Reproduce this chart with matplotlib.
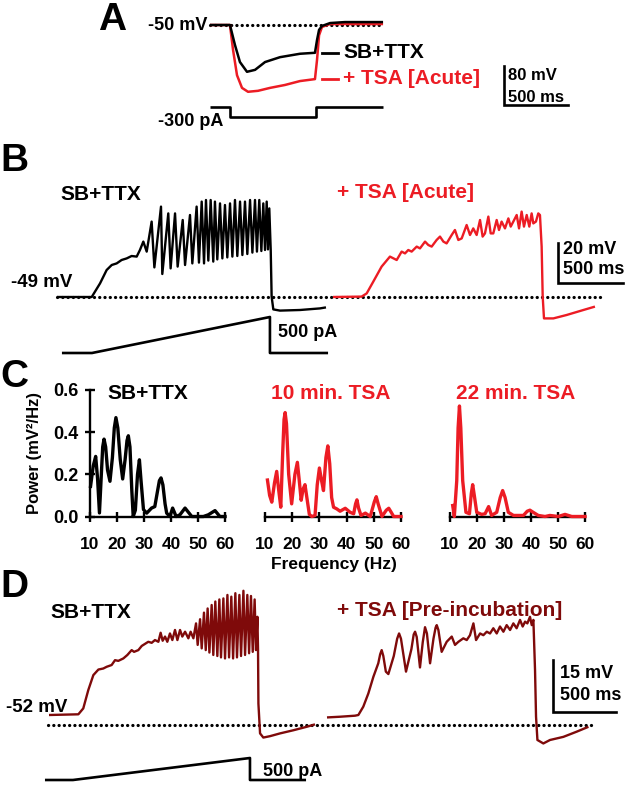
import numpy as np
import matplotlib
matplotlib.use('Agg')
import matplotlib.pyplot as plt
from matplotlib.lines import Line2D

plt.rcParams['font.family'] = ['Liberation Sans', 'DejaVu Sans']
plt.rcParams['font.weight'] = 'bold'

W, H = 625, 792
RED = '#EC1C24'
DRED = '#7F0A0A'

# ------------------------------------------------------------------ data
# Panel A: hyperpolarising step (time ms, membrane potential mV, current pA)
A_sb_t = [0, 156, 195, 234, 289, 352, 430, 547, 703, 820, 836, 852, 875, 938, 1055, 1352]
A_sb_v = [-50, -50, -91, -126, -146, -142, -126, -116, -109, -107, -81, -60, -52, -46, -44, -44]
A_tsa_t = [0, 156, 180, 211, 250, 297, 375, 469, 586, 703, 820, 836, 852, 875, 938, 1352]
A_tsa_v = [-50, -50, -101, -153, -179, -187, -185, -179, -173, -165, -161, -122, -71, -54, -48, -48]
A_step_t = [0, 156, 156, 828, 828, 1352]
A_step_i = [0, 0, -300, -300, 0, 0]

# Panel B: ramp responses (ms, mV)
B_sb_t = [0, 267, 331, 382, 421, 459, 497, 536, 574, 613,
          638, 664, 690, 728, 749, 800, 810, 856, 874, 908,
          928, 967, 985, 1023, 1041, 1074, 1092, 1113, 1131, 1146,
          1164, 1182, 1202, 1215, 1233, 1254, 1272, 1292, 1310, 1331,
          1349, 1369, 1387, 1408, 1426, 1446, 1464, 1485, 1503, 1523,
          1538, 1556, 1572, 1587, 1600, 1613, 1623, 1633, 1644, 1651,
          1664, 1715, 1869, 2023, 2069]
B_sb_v = [-49, -49, -42.2, -35.5, -33, -32.2, -30.5, -29.7, -28.5, -28.8,
          -25.5, -21.3, -26.3, -11.3, -34.2, -3.8, -37.5, -7.2, -34.7, -7.2,
          -33.8, -10.5, -33, -8, -32.2, -3.8, -31.8, -1.3, -32.2, -0.5,
          -30.8, -0.5, -31.3, -1.3, -30.2, -2.2, -29.7, -3, -29.2, -2.2,
          -28.8, -0.5, -28.5, -1.3, -28, -1.3, -27.5, -0.5, -26.8, -0.5,
          -26.3, -0.5, -26, -2.2, -25.5, -1.3, -25.2, -4.7, -25.5, -48.8,
          -55.2, -55.8, -55.5, -54.7, -54.2]
B_tsa_t = [0, 220, 259, 310, 374, 438, 490, 528, 554, 579,
           605, 644, 669, 708, 733, 759, 797, 823, 849, 874,
           913, 938, 964, 990, 1028, 1054, 1079, 1105, 1131, 1151,
           1169, 1195, 1213, 1233, 1259, 1277, 1297, 1323, 1349, 1367,
           1387, 1413, 1431, 1451, 1469, 1490, 1510, 1528, 1541, 1561,
           1579, 1592, 1605, 1613, 1623, 1695, 1797, 1926, 2015]
B_tsa_v = [-49, -48.8, -47.2, -41.3, -33.8, -28.8, -30.5, -26.3, -27.2, -25.5,
           -26.3, -23.8, -24.7, -21.3, -23, -23.8, -20.5, -18.8, -21.3, -22.2,
           -18, -15.5, -20.5, -19.7, -13, -18, -14.7, -18, -10.5, -18.8,
           -17.2, -8.8, -17.2, -17.2, -10.5, -15.5, -11.3, -14.7, -9.7, -13.8,
           -11.3, -8, -14.7, -6.3, -13.8, -8, -13.8, -7.2, -12.2, -11.3,
           -7.2, -8, -23.8, -48.8, -59.7, -59.7, -58, -55.5, -53.8]
B_ramp_t = [38, 269, 1638, 1638, 2085]
B_ramp_i = [0, 0, 500, 0, 0]

# Panel C: power spectra (Hz, mV^2/Hz)
C1_f = [10.2, 11.2, 12.1, 12.8, 13.5, 14.2, 14.7, 15.2, 15.8, 16.5, 17.4, 18.3, 19.0, 19.6, 20.3,
        21.2, 22.1, 23.0, 23.7, 24.2, 24.8, 25.5, 26.0, 26.8, 27.6, 28.3, 28.9, 29.8, 31.0, 32.8,
        34.0, 35.0, 35.7, 36.3, 37.0, 37.8, 38.4, 39.6, 40.6, 41.9, 43.3, 45.2, 47.7, 52.0, 53.8,
        56.3, 58.1, 60.0]
C1_p = [0.143, 0.24, 0.285, 0.18, 0.017, 0.2, 0.33, 0.367, 0.33, 0.22, 0.167, 0.28, 0.42, 0.469, 0.42,
        0.27, 0.178, 0.27, 0.36, 0.383, 0.33, 0.12, 0.0, 0.03, 0.2, 0.269, 0.17, 0.033, 0.016, 0.04,
        0.047, 0.12, 0.17, 0.183, 0.15, 0.06, 0.016, 0.0, 0.04, 0.0, 0.008, 0.04, 0.0, 0.0, 0.008,
        0.028, 0.0, 0.0]
C2_f = [10.9, 11.7, 12.5, 13.5, 14.3, 15.0, 15.8, 16.5, 17.0, 17.4, 17.9, 18.7, 19.8, 21.0, 21.9,
        22.6, 23.3, 24.0, 24.7, 25.5, 26.3, 27.2, 28.4, 29.2, 30.0, 30.8, 31.5, 32.4, 33.1, 33.8,
        34.5, 35.2, 36.4, 37.6, 39.5, 41.3, 42.6, 43.3, 43.8, 44.4, 45.3, 46.9, 48.7, 50.2, 50.9,
        51.6, 53.0, 54.6, 55.5, 56.4, 57.3, 60.0]
C2_p = [0.173, 0.1, 0.068, 0.16, 0.214, 0.13, 0.044, 0.3, 0.46, 0.493, 0.44, 0.2, 0.06, 0.2, 0.257,
        0.17, 0.077, 0.13, 0.151, 0.08, 0.01, 0.0, 0.005, 0.15, 0.23, 0.17, 0.123, 0.28, 0.335, 0.25,
        0.09, 0.044, 0.036, 0.025, 0.039, 0.02, 0.013, 0.06, 0.079, 0.04, 0.005, 0.016, 0.0, 0.07, 0.094,
        0.06, 0.0, 0.03, 0.039, 0.02, 0.0, 0.0]
C3_f = [11.0, 11.6, 12.5, 13.0, 13.5, 14.0, 14.7, 15.9, 17.2, 17.9, 18.4, 19.0, 19.9, 21.7, 23.0,
        24.3, 25.4, 27.3, 28.6, 29.5, 30.4, 31.6, 33.5, 37.2, 38.6, 39.6, 40.8, 42.7, 45.2, 47.0,
        50.1, 52.6, 55.1, 60.0]
C3_p = [0.052, 0.0, 0.17, 0.42, 0.524, 0.42, 0.17, 0.02, 0.013, 0.11, 0.151, 0.1, 0.02, 0.01, 0.013,
        0.047, 0.005, 0.02, 0.09, 0.123, 0.09, 0.02, 0.005, 0.005, 0.025, 0.03, 0.02, 0.005, 0.0, 0.005,
        0.0, 0.01, 0.0, 0.0]
C_xticks = [10, 20, 30, 40, 50, 60]
C_yticks = [0.0, 0.2, 0.4, 0.6]
C_titles = ['SB+TTX', '10 min. TSA', '22 min. TSA']

# Panel D: ramp responses after pre-incubation (ms, mV)
D_sb_t = [0, 233, 272, 312, 352, 392, 431, 458, 497, 524,
          550, 590, 622, 656, 675, 709, 736, 762, 788, 815,
          841, 868, 886, 902, 921, 939, 960, 979, 1000, 1019,
          1040, 1058, 1080, 1106, 1124, 1146, 1167, 1180, 1199, 1212,
          1230, 1244, 1259, 1273, 1291, 1304, 1320, 1336, 1352, 1365,
          1384, 1397, 1416, 1429, 1447, 1461, 1479, 1492, 1511, 1524,
          1543, 1556, 1574, 1588, 1603, 1617, 1632, 1643, 1654, 1659,
          1662, 1675, 1701, 1754, 1834, 1939, 2045, 2111]
D_sb_v = [-52, -51.8, -50.1, -44.8, -40.5, -38.9, -38.6, -38.1, -37.6, -36.2,
          -36.4, -35.7, -34.7, -33.3, -33.8, -33.3, -32.1, -31.5, -30.9, -31.2,
          -30.4, -30.9, -28.3, -30.6, -29.4, -30.9, -28.5, -30.4, -27.5, -30.4,
          -27.5, -29.4, -28, -29.9, -28, -29.9, -25.6, -31.8, -24.4, -32.8,
          -22.5, -33.3, -21.3, -34, -20.3, -34.7, -19.3, -35, -18.7, -35.4,
          -18.4, -35.7, -17.4, -35.4, -17.9, -35.7, -16.9, -35.4, -17.4, -35,
          -16.2, -34.7, -17.4, -34.2, -17.7, -33.8, -18.7, -33.3, -23.7, -33.3,
          -48.7, -57.3, -58.5, -58.1, -57.3, -56.4, -55.4, -54.7]
D_tsa_t = [0, 103, 222, 249, 288, 328, 368, 407, 422, 434, 447, 467, 487,
           530, 557, 572, 587, 627, 670, 688, 699, 712, 738, 760, 778, 793, 818,
           845, 862, 871, 884, 910, 950, 990,
           1016, 1043, 1082, 1109, 1135, 1162, 1183, 1215, 1241, 1268,
           1294, 1320, 1347, 1373, 1400, 1426, 1453, 1479, 1505, 1532,
           1553, 1572, 1590, 1611, 1625, 1638, 1651, 1659, 1670, 1717,
           1770, 1876, 1982, 2075]
D_tsa_v = [-52.7, -52.5, -52.2, -52, -49.6, -45.8, -41, -37.1, -34.5, -33.3, -35, -39.5, -40.2,
           -35, -30, -28.5, -30, -39.5, -33, -28.8, -28, -29.5, -38.3, -31, -26.7, -28.5, -37.1,
           -30, -26.8, -26.1, -27.5, -33.8, -30.9, -29.4,
           -31.8, -30.9, -29.9, -30.4, -29, -25.6, -30.4, -28.5, -29, -28,
           -28.5, -27, -28.5, -26.5, -28, -26.1, -27.5, -25.6, -27, -24.6,
           -26.5, -25.1, -25.6, -23.7, -26.1, -24.6, -39, -52.5, -59.2, -60.2,
           -59.2, -58.3, -56.8, -55.4]
D_ramp_t = [-32, 190, 1595, 1595, 2040]
D_ramp_i = [0, 0, 500, 0, 0]

# ------------------------------------------------------------------ layout helpers
fig = plt.figure(figsize=(W / 100, H / 100), dpi=100)


def px_axes(x0, y0, x1, y1):
    ax = fig.add_axes([x0 / W, 1 - y1 / H, (x1 - x0) / W, (y1 - y0) / H])
    ax.set_axis_off()
    return ax


class Row:
    """Axes in physical units (ms, mV/pA) laid out with a fixed pixel scale."""

    def __init__(self, y0, y1, x0px, pxx, yref, vref, pxv):
        self.x0px, self.pxx, self.yref, self.vref, self.pxv = x0px, pxx, yref, vref, pxv
        self.ax = px_axes(0, y0, W, y1)
        self.ax.set_xlim(self.t(0), self.t(W))
        self.ax.set_ylim(self.v(y1), self.v(y0))

    def t(self, x):
        return (x - self.x0px) / self.pxx

    def v(self, y):
        return self.vref - (y - self.yref) / self.pxv

    def plot(self, t, v, start_px, **kw):
        off = self.t(start_px)
        self.ax.plot(np.asarray(t, float) + off, v, clip_on=False,
                     solid_joinstyle='round', solid_capstyle='butt', **kw)

    def dotted(self, v, x0px, x1px):
        self.ax.plot([self.t(x0px), self.t(x1px)], [v, v], color='k', lw=2.3,
                     linestyle=(0, (0.05, 1.6)), dash_capstyle='round', clip_on=False)

    def scalebar(self, xpx, ypx, dt, dv, lw=1.9):
        tc, vc = self.t(xpx), self.v(ypx)
        self.ax.plot([tc, tc, tc + dt], [vc + dv, vc, vc], color='k', lw=lw,
                     clip_on=False, solid_joinstyle='miter')


def ftext(x, y, s, ha='left', va='center', size=15, color='k', **kw):
    fig.text(x / W, 1 - y / H, s, ha=ha, va=va, fontsize=size, color=color,
             fontweight='bold', **kw)


def fline(x0, x1, y, color, lw=2.0):
    fig.add_artist(Line2D([x0 / W, x1 / W], [1 - y / H, 1 - y / H], color=color,
                          lw=lw, transform=fig.transFigure))


# ------------------------------------------------------------------ panel A
rA = Row(0, 140, 210, 0.128, 25, -50, 0.4875)
rA.dotted(-50, 210, 383)
rA.plot(A_tsa_t, A_tsa_v, 210, color=RED, lw=1.8)
rA.plot(A_sb_t, A_sb_v, 210, color='k', lw=1.8)
rA.scalebar(504, 105, 500, 80)
rAi = Row(95, 135, 210, 0.128, 107, 0, 10 / 300)
rAi.plot(A_step_t, A_step_i, 210, color='k', lw=1.9)

ftext(112, 20, 'A', ha='center', size=28)
ftext(207, 26, '-50 mV', ha='right', size=13)
ftext(223, 122, '-300 pA', ha='right', size=13)
fline(322, 338, 53, 'k')
fline(322, 338, 79, RED)
ftext(343, 53, 'SB+TTX', size=15)
ftext(343, 79, '+ TSA [Acute]', size=15, color=RED)
ftext(508, 76, '80 mV', size=12)
ftext(508, 97, '500 ms', size=12)

# ------------------------------------------------------------------ panel B
rB = Row(140, 320, 57, 0.13, 297, -49, 2.0)
rB.dotted(-49, 57, 602)
rB.plot(B_sb_t, B_sb_v, 57, color='k', lw=1.7)
rB.plot(B_tsa_t, B_tsa_v, 333, color=RED, lw=1.7)
rB.scalebar(558, 283, 500, 20)
rBi = Row(305, 365, 57, 0.13, 353, 0, 0.072)
rBi.plot(B_ramp_t, B_ramp_i, 57, color='k', lw=1.9)

ftext(14, 161, 'B', ha='center', size=28)
ftext(60, 195, 'SB+TTX', size=15)
ftext(337, 192, '+ TSA [Acute]', size=15, color=RED)
ftext(72, 283, '-49 mV', ha='right', size=13.5)
ftext(563, 249, '20 mV', size=13)
ftext(563, 269, '500 ms', size=13)
ftext(278, 333, '500 pA', size=13)

# ------------------------------------------------------------------ panel C
C_boxes = [(90, 225), (265, 401), (450, 585)]
C_data = [(C1_f, C1_p, 'k'), (C2_f, C2_p, RED), (C3_f, C3_p, RED)]
C_title_x = [148, 331, 516]
for i, ((x0, x1), (f, p, col)) in enumerate(zip(C_boxes, C_data)):
    ax = fig.add_axes([x0 / W, 1 - 516.5 / H, (x1 - x0) / W, (516.5 - 390) / H])
    ax.set_xlim(10, 60)
    ax.set_ylim(0, 0.6)
    ax.patch.set_visible(False)
    for s in ['top', 'right']:
        ax.spines[s].set_visible(False)
    ax.spines['bottom'].set_linewidth(1.7)
    ax.spines['left'].set_linewidth(1.7)
    ax.set_xticks(C_xticks)
    ax.tick_params(axis='x', direction='inout', length=7, width=1.7, labelsize=12.5, pad=11)
    if i == 0:
        ax.set_yticks(C_yticks)
        ax.set_yticklabels(['%.1f' % y for y in C_yticks])
        ax.tick_params(axis='y', direction='inout', length=7, width=1.7, labelsize=13, pad=5)
    else:
        ax.spines['left'].set_visible(False)
        ax.set_yticks([])
    for lab in ax.get_xticklabels() + ax.get_yticklabels():
        lab.set_fontweight('bold')
    ax.plot(f, p, color=col, lw=2.4, clip_on=False, solid_joinstyle='round', zorder=3)
    ftext(C_title_x[i], 394, C_titles[i], ha='center', size=15,
          color='k' if i == 0 else RED)

ftext(14, 377, 'C', ha='center', size=28)
ftext(35, 453, 'Power (mV²/Hz)', ha='center', size=12, rotation=90)
ftext(334, 565, 'Frequency (Hz)', ha='center', size=12.5)

# ------------------------------------------------------------------ panel D
rD = Row(560, 750, 49, 0.126, 715, -52, 3.47)
rD.dotted(rD.v(725), 48, 592)
rD.plot(D_sb_t, D_sb_v, 49, color=DRED, lw=1.7)
rD.plot(D_tsa_t, D_tsa_v, 327, color=DRED, lw=1.7)
rD.scalebar(553, 712, 500, 15)
rDi = Row(745, 790, 49, 0.126, 780, 0, 0.044)
rDi.plot(D_ramp_t, D_ramp_i, 49, color='k', lw=1.9)

ftext(14, 587, 'D', ha='center', size=28)
ftext(50, 613, 'SB+TTX', size=15)
ftext(337, 610, '+ TSA [Pre-incubation]', size=15, color=DRED)
ftext(67, 707, '-52 mV', ha='right', size=13.5)
ftext(560, 673, '15 mV', size=13)
ftext(560, 695, '500 ms', size=13)
ftext(263, 771, '500 pA', size=13)

fig.savefig('out.png', dpi=100)
